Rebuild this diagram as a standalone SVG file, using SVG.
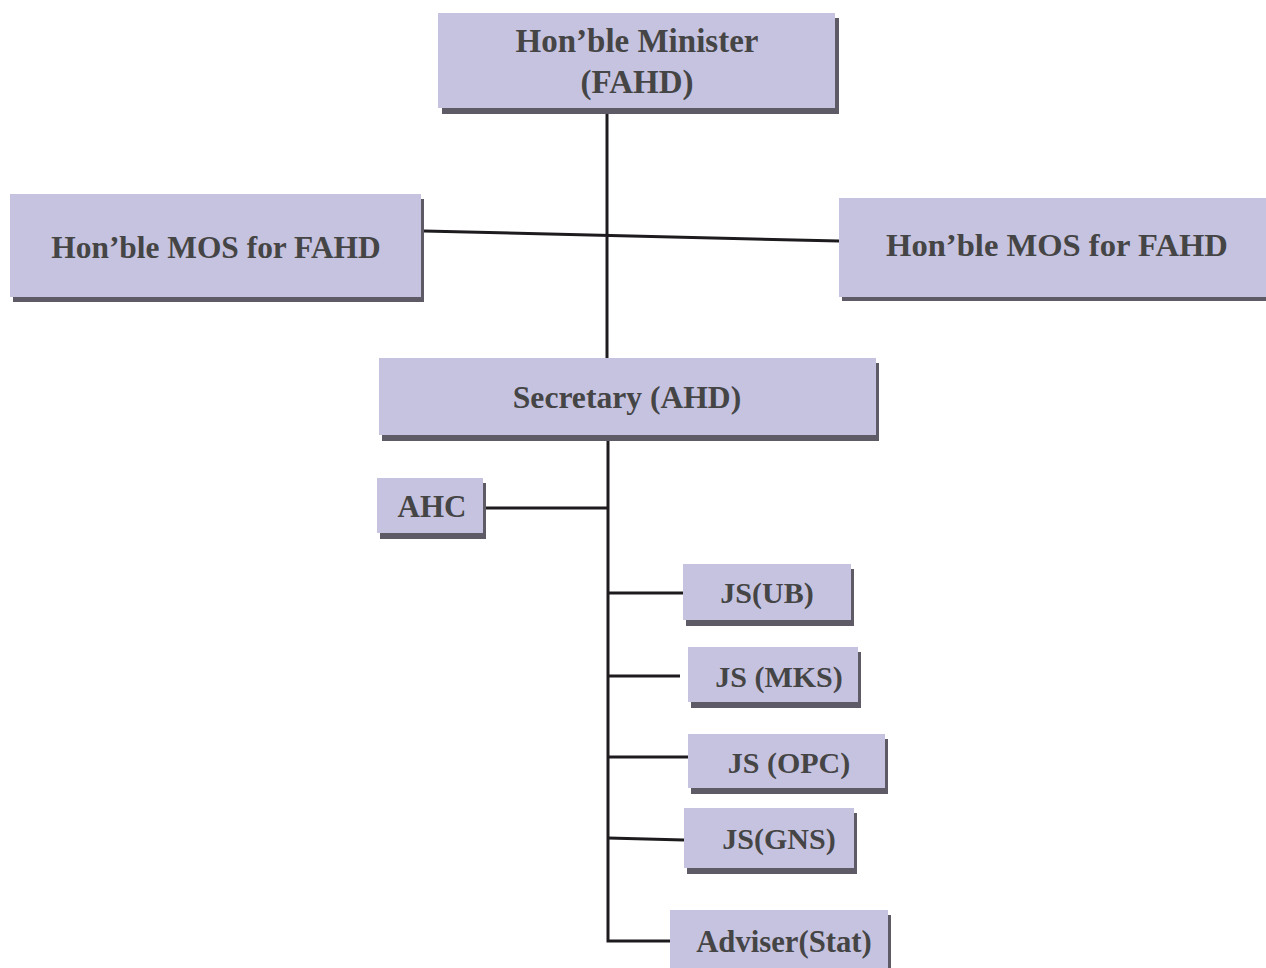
<svg xmlns="http://www.w3.org/2000/svg" width="1266" height="968" viewBox="0 0 1266 968">
<style>
.sh{fill:#5f5b66}
.bx{fill:#c6c3e1}
.t{font-family:"Liberation Serif","Times New Roman",serif;font-weight:bold;fill:#454545;text-anchor:middle}
.ln{stroke:#1e1b1e;stroke-width:3;fill:none}
</style>
<rect width="1266" height="968" fill="#ffffff"/>
<g id="connectors">
<line class="ln" x1="607" y1="112" x2="607" y2="358"/>
<line class="ln" x1="424" y1="231" x2="839" y2="241"/>
<polyline class="ln" points="608,440 608,941 670,941"/>
<line class="ln" x1="486" y1="508" x2="608" y2="508"/>
<line class="ln" x1="608" y1="593" x2="683" y2="593"/>
<line class="ln" x1="608" y1="676" x2="680" y2="676"/>
<line class="ln" x1="608" y1="757" x2="688" y2="757"/>
<line class="ln" x1="608" y1="838" x2="684" y2="840"/>
</g>
<g id="minister">
<rect class="sh" x="442" y="18" width="397" height="96"/>
<rect class="bx" x="438" y="13" width="397" height="95"/>
<text class="t" x="637" y="52" font-size="33">Hon’ble Minister</text>
<text class="t" x="637" y="93" font-size="33">(FAHD)</text>
</g>
<g id="mos-left">
<rect class="sh" x="13" y="199" width="411" height="103"/>
<rect class="bx" x="10" y="194" width="411" height="103"/>
<text class="t" x="216" y="258" font-size="31.4">Hon’ble MOS for FAHD</text>
</g>
<g id="mos-right">
<rect class="sh" x="842" y="203" width="424" height="98"/>
<rect class="bx" x="839" y="198" width="427" height="99"/>
<text class="t" x="1057" y="256" font-size="32.6">Hon’ble MOS for FAHD</text>
</g>
<g id="secretary">
<rect class="sh" x="382" y="363" width="497" height="78"/>
<rect class="bx" x="379" y="358" width="497" height="77"/>
<text class="t" x="627" y="408" font-size="31.6">Secretary (AHD)</text>
</g>
<g id="ahc">
<rect class="sh" x="380" y="483" width="106" height="56"/>
<rect class="bx" x="377" y="478" width="106" height="55"/>
<text class="t" x="432" y="517" font-size="31">AHC</text>
</g>
<g id="js-ub">
<rect class="sh" x="686" y="569" width="168" height="57"/>
<rect class="bx" x="683" y="564" width="168" height="56"/>
<text class="t" x="767" y="603" font-size="30">JS(UB)</text>
</g>
<g id="js-mks">
<rect class="sh" x="691" y="652" width="170" height="56"/>
<rect class="bx" x="688" y="647" width="170" height="55"/>
<text class="t" x="779" y="687" font-size="30">JS (MKS)</text>
</g>
<g id="js-opc">
<rect class="sh" x="691" y="739" width="197" height="55"/>
<rect class="bx" x="688" y="734" width="197" height="54"/>
<text class="t" x="789" y="773" font-size="30">JS (OPC)</text>
</g>
<g id="js-gns">
<rect class="sh" x="687" y="813" width="170" height="61"/>
<rect class="bx" x="684" y="808" width="170" height="60"/>
<text class="t" x="779" y="849" font-size="30">JS(GNS)</text>
</g>
<g id="adviser">
<rect class="sh" x="673" y="915" width="218" height="53"/>
<rect class="bx" x="670" y="910" width="218" height="58"/>
<text class="t" x="784" y="952" font-size="30.7">Adviser(Stat)</text>
</g>
</svg>
